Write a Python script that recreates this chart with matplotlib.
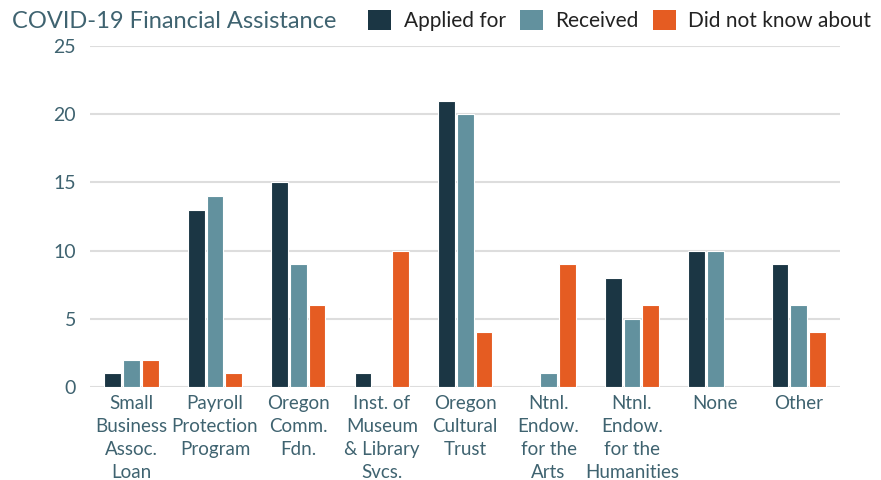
import matplotlib
matplotlib.use("Agg")
import matplotlib.pyplot as plt
import numpy as np
from matplotlib.patches import Patch

categories = ["Small\nBusiness\nAssoc.\nLoan", "Payroll\nProtection\nProgram", "Oregon\nComm.\nFdn.",
              "Inst. of\nMuseum\n& Library\nSvcs.", "Oregon\nCultural\nTrust", "Ntnl.\nEndow.\nfor the\nArts",
              "Ntnl.\nEndow.\nfor the\nHumanities", "None", "Other"]
applied = [1, 13, 15, 1, 21, 0, 8, 10, 9]
received = [2, 14, 9, 0, 20, 1, 5, 10, 6]
did_not_know = [2, 1, 6, 10, 4, 9, 6, 0, 4]
series_names = ["Applied for", "Received", "Did not know about"]
colors = ["#1b3644", "#62919e", "#e55c22"]
yticks = [0, 5, 10, 15, 20, 25]

plt.rcParams['font.family'] = ['Lato', 'DejaVu Sans']
text_color = "#3f6370"

fig = plt.figure(figsize=(8.81, 4.80), dpi=100)
ax = fig.add_axes([0.102, 0.194, 0.852, 0.710])

x = np.arange(len(categories))
w = 0.2
off = 0.225
for i, (vals, c) in enumerate(zip([applied, received, did_not_know], colors)):
    ax.bar(x + (i - 1) * off, vals, width=w, color=c, edgecolor="white", linewidth=0.8, zorder=3)

ax.set_xlim(-0.5, len(categories) - 0.5)
ax.set_ylim(0, 25)
ax.set_yticks(yticks)
ax.set_yticklabels([str(t) for t in yticks], fontsize=14, color=text_color)
ax.set_xticks(x)
ax.set_xticklabels(categories, fontsize=13.5, color=text_color, va="top", linespacing=1.42)
ax.tick_params(axis="both", length=0)
ax.tick_params(axis="y", pad=10)
ax.tick_params(axis="x", pad=6)
ax.grid(axis="y", color="#dddddd", linewidth=1.5, zorder=0)
for s in ax.spines.values():
    s.set_visible(False)

fig.text(0.014, 0.955, "COVID-19 Financial Assistance", fontsize=17, color=text_color, va="center", ha="left")
handles = [Patch(facecolor=c, edgecolor="none") for c in colors]
fig.legend(handles, series_names, loc="center left", bbox_to_anchor=(0.418, 0.957), ncol=3, frameon=False,
           fontsize=15, handlelength=1.1, handleheight=1.1, handletextpad=0.6, columnspacing=0.68,
           labelcolor="#222222", borderaxespad=0, borderpad=0)

fig.savefig("out.png", dpi=100)
